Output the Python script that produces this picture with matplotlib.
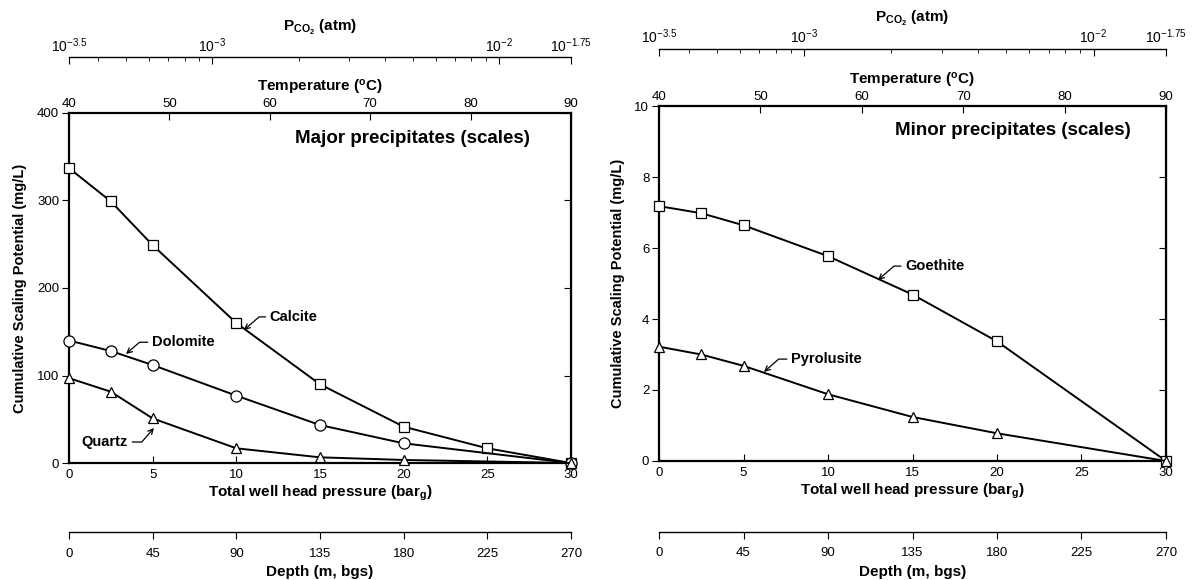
import numpy as np
import matplotlib
matplotlib.use("Agg")
from matplotlib import pyplot as plt

plt.rcParams['font.family'] = ['Liberation Sans', 'DejaVu Sans']
plt.rcParams['mathtext.default'] = 'regular'

# well head pressure (bar_g)
p_calcite = [0, 2.5, 5, 10, 15, 20, 25, 30]
calcite = [337, 299, 249, 160, 90, 41.5, 16.8, 0]
p_major = [0, 2.5, 5, 10, 15, 20, 30]
dolomite = [140, 128, 112, 77, 43.4, 22.5, 0]
quartz = [97, 81.5, 51, 16.8, 6.5, 3.5, 0]

p_minor = [0, 2.5, 5, 10, 15, 20, 30]
goethite = [7.18, 6.98, 6.64, 5.77, 4.69, 3.37, 0]
pyrolusite = [3.22, 3.0, 2.68, 1.88, 1.24, 0.78, 0]

# secondary scales
temp_range = (40, 90)
temp_ticks = [40, 50, 60, 70, 80, 90]
depth_range = (0, 270)
depth_ticks = [0, 45, 90, 135, 180, 225, 270]
pco2_exp = [-3.5, -3, -2, -1.75]
pco2_labels = ['$10^{-3.5}$', '$10^{-3}$', '$10^{-2}$', '$10^{-1.75}$']

fig = plt.figure(figsize=(11.95, 5.8), dpi=100)
ax1 = fig.add_axes([0.0577, 0.2017, 0.4201, 0.6035])
ax2 = fig.add_axes([0.5515, 0.2052, 0.4242, 0.6120])

lab_fs = 11
tick_fs = 9.5
arrow = dict(arrowstyle='->', lw=0.9, color='black', shrinkA=1, shrinkB=0,
             mutation_scale=9)


def decorate(ax, ymax, yticks, pco2_out, depth_out):
    ax.set_xlim(0, 30)
    ax.set_ylim(0, ymax)
    ax.set_xticks([0, 5, 10, 15, 20, 25, 30])
    ax.set_yticks(yticks)
    for s in ax.spines.values():
        s.set_linewidth(1.6)
    ax.tick_params(axis='x', direction='in', length=5, labelsize=tick_fs, pad=4)
    ax.tick_params(axis='y', direction='out', length=5, labelsize=tick_fs, pad=2)
    ax.set_xlabel('Total well head pressure (bar$_g$)', fontsize=lab_fs,
                  fontweight='bold', labelpad=2)
    ax.set_ylabel('Cumulative Scaling Potential (mg/L)', fontsize=10.5,
                  fontweight='bold', labelpad=7)

    sec = ax.secondary_yaxis('right')
    sec.tick_params(direction='in', length=5, labelright=False)
    sec.set_yticks(yticks)

    # temperature axis
    axT = ax.twiny()
    axT.set_xlim(*temp_range)
    axT.set_xticks(temp_ticks)
    axT.tick_params(direction='in', length=5, labelsize=tick_fs, pad=2)
    axT.set_xlabel('Temperature ($^o$C)', fontsize=lab_fs, fontweight='bold',
                   labelpad=5)
    for s in axT.spines.values():
        s.set_visible(False)

    # PCO2 axis (log)
    axP = ax.twiny()
    axP.set_xscale('log')
    axP.set_xlim(10 ** pco2_exp[0], 10 ** pco2_exp[-1])
    axP.set_xticks([10 ** e for e in pco2_exp])
    axP.set_xticklabels(pco2_labels)
    axP.set_xticks([k * 1e-4 for k in range(4, 10)] + [k * 1e-3 for k in range(2, 10)],
                   minor=True)
    axP.xaxis.set_minor_formatter(matplotlib.ticker.NullFormatter())
    for name, s in axP.spines.items():
        s.set_visible(name == 'top')
    axP.spines['top'].set_position(('outward', pco2_out))
    axP.spines['top'].set_linewidth(1.0)
    axP.tick_params(which='major', direction='in', length=5, labelsize=10, pad=2)
    axP.tick_params(which='minor', direction='in', length=3)
    axP.set_xlabel('P$_{CO_2}$ (atm)', fontsize=lab_fs, fontweight='bold', labelpad=4)

    # depth axis
    axD = ax.twiny()
    axD.xaxis.set_ticks_position('bottom')
    axD.xaxis.set_label_position('bottom')
    axD.set_xlim(*depth_range)
    axD.set_xticks(depth_ticks)
    for name, s in axD.spines.items():
        s.set_visible(name == 'bottom')
    axD.spines['bottom'].set_position(('outward', depth_out))
    axD.spines['bottom'].set_linewidth(1.0)
    axD.tick_params(direction='out', length=5, labelsize=tick_fs, pad=6)
    axD.set_xlabel('Depth (m, bgs)', fontsize=lab_fs, fontweight='bold', labelpad=4)


line = dict(color='black', lw=1.4, markerfacecolor='white',
            markeredgecolor='black', markeredgewidth=0.9, clip_on=False, zorder=5)

# left panel
ax1.plot(p_calcite, calcite, marker='s', markersize=7, **line)
ax1.plot(p_major, dolomite, marker='o', markersize=8, **line)
ax1.plot(p_major, quartz, marker='^', markersize=7.5, **line)
decorate(ax1, 400, [0, 100, 200, 300, 400], 40, 50)
ax1.text(27.55, 371, 'Major precipitates (scales)', ha='right', va='center',
         fontsize=13.5, fontweight='bold')
ax1.annotate('Calcite', xy=(10.46, 152), xytext=(12.0, 167), ha='left', va='center',
             fontsize=10.5, fontweight='bold',
             arrowprops=dict(connectionstyle='angle,angleA=0,angleB=41', **arrow))
ax1.annotate('Dolomite', xy=(3.41, 124.6), xytext=(4.96, 138), ha='left', va='center',
             fontsize=10.5, fontweight='bold',
             arrowprops=dict(connectionstyle='angle,angleA=0,angleB=41', **arrow))
ax1.annotate('Quartz', xy=(5.08, 40), xytext=(3.53, 24), ha='right', va='center',
             fontsize=10.5, fontweight='bold',
             arrowprops=dict(connectionstyle='angle,angleA=0,angleB=49', **arrow))

# right panel
ax2.plot(p_minor, goethite, marker='s', markersize=6.5, **line)
ax2.plot(p_minor, pyrolusite, marker='^', markersize=7, **line)
decorate(ax2, 10, [0, 2, 4, 6, 8, 10], 41, 51)
ax2.text(27.9, 9.3, 'Minor precipitates (scales)', ha='right', va='center',
         fontsize=13.5, fontweight='bold')
ax2.annotate('Goethite', xy=(12.96, 5.10), xytext=(14.56, 5.49), ha='left', va='center',
             fontsize=10.5, fontweight='bold',
             arrowprops=dict(connectionstyle='angle,angleA=0,angleB=41', **arrow))
ax2.annotate('Pyrolusite', xy=(6.21, 2.51), xytext=(7.81, 2.87), ha='left', va='center',
             fontsize=10.5, fontweight='bold',
             arrowprops=dict(connectionstyle='angle,angleA=0,angleB=41', **arrow))

fig.savefig('out.png', dpi=100)
